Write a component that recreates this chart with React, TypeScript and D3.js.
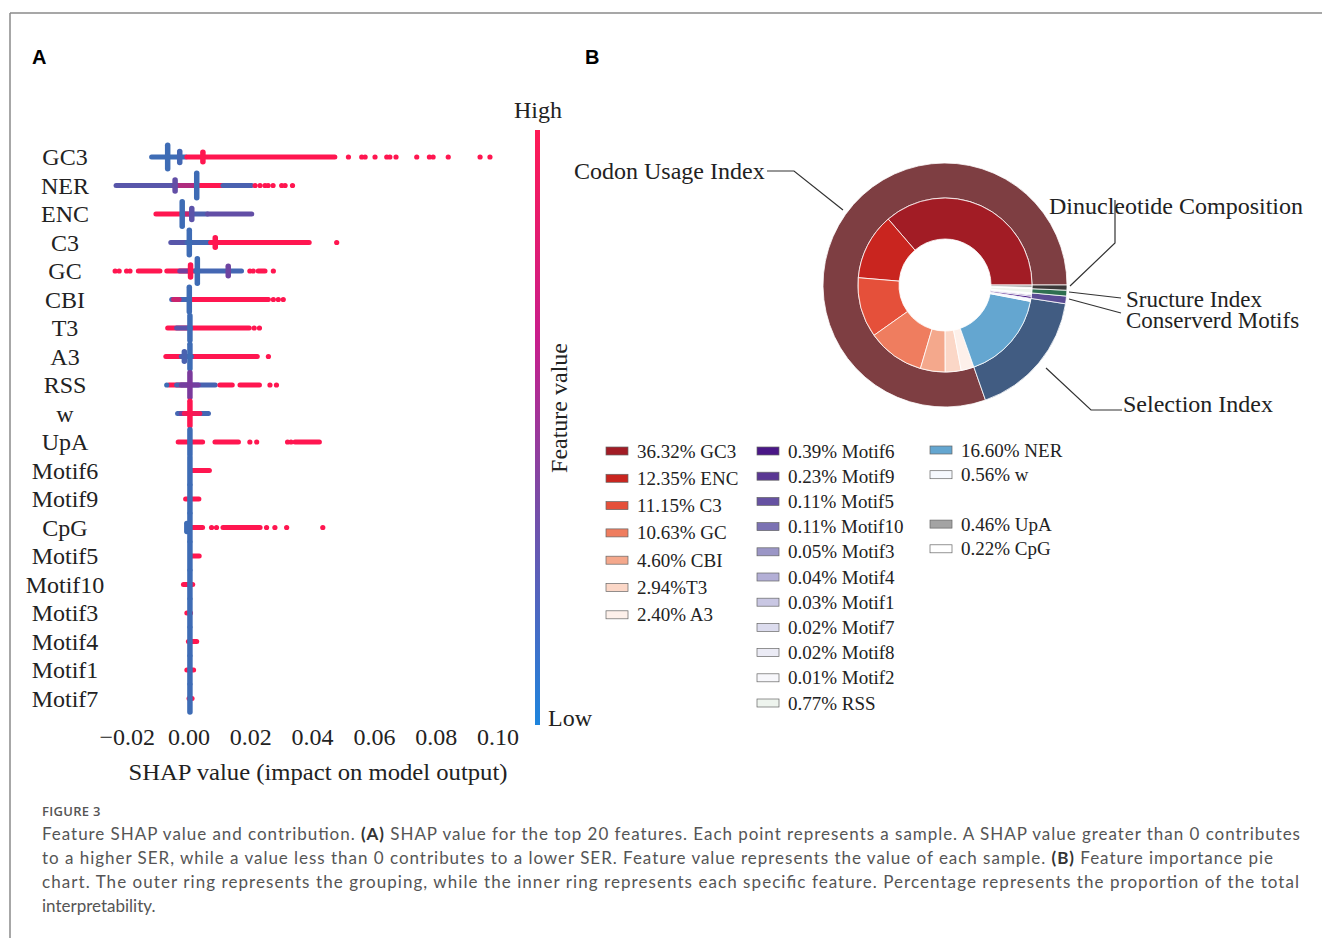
import React from 'react';
import * as d3 from 'd3';

// ---------------- Panel A data ----------------
const features = ['GC3','NER','ENC','C3','GC','CBI','T3','A3','RSS','w','UpA','Motif6','Motif9','CpG','Motif5','Motif10','Motif3','Motif4','Motif1','Motif7'];
const xTicks = [-0.02, 0, 0.02, 0.04, 0.06, 0.08, 0.1];

// dense runs of samples: [feature, shapFrom, shapTo, featureValueLevel 0=low 1=high]
const shapRuns: [string, number, number, number][] = [
  ['GC3', -0.0121, -0.0010, 0.0],
  ['GC3', -0.0007, 0.0472, 1.0],
  ['NER', -0.0236, -0.0045, 0.22],
  ['NER', -0.0045, 0.0025, 0.7],
  ['NER', 0.0025, 0.0110, 1.0],
  ['NER', 0.0110, 0.0203, 0.1],
  ['ENC', -0.0107, -0.0029, 1.0],
  ['ENC', -0.0022, 0.0060, 0.12],
  ['ENC', 0.0060, 0.0203, 0.3],
  ['ENC', -0.0020, 0.0008, 0.8],
  ['C3', -0.0059, -0.0007, 0.22],
  ['C3', -0.0007, 0.0079, 0.05],
  ['C3', 0.0070, 0.0389, 1.0],
  ['GC', -0.0164, -0.0094, 1.0],
  ['GC', -0.0072, 0.0020, 1.0],
  ['GC', -0.0030, 0.0000, 0.45],
  ['GC', 0.0020, 0.0170, 0.05],
  ['GC', 0.0224, 0.0246, 1.0],
  ['CBI', -0.0056, 0.0000, 0.05],
  ['CBI', -0.0050, -0.0032, 0.8],
  ['CBI', 0.0005, 0.0257, 1.0],
  ['T3', -0.0069, 0.0195, 1.0],
  ['T3', -0.0040, 0.0005, 0.25],
  ['A3', -0.0075, 0.0221, 1.0],
  ['A3', -0.0025, 0.0008, 0.1],
  ['RSS', -0.0065, -0.0005, 1.0],
  ['RSS', -0.0040, 0.0085, 0.08],
  ['RSS', -0.0025, 0.0030, 0.45],
  ['RSS', 0.0100, 0.0140, 1.0],
  ['RSS', 0.0165, 0.0228, 1.0],
  ['w', -0.0037, 0.0063, 0.05],
  ['w', -0.0025, -0.0005, 0.4],
  ['w', -0.0015, 0.0035, 0.95],
  ['UpA', -0.0035, 0.0044, 1.0],
  ['UpA', 0.0084, 0.0160, 1.0],
  ['UpA', 0.0343, 0.0422, 1.0],
  ['Motif6', 0.0005, 0.0066, 1.0],
  ['Motif9', -0.0011, 0.0032, 1.0],
  ['CpG', 0.0003, 0.0044, 1.0],
  ['CpG', 0.0110, 0.0230, 1.0],
  ['Motif5', 0.0005, 0.0033, 1.0],
  ['Motif10', -0.0018, 0.0012, 1.0],
  ['Motif3', -0.0007, 0.0005, 1.0],
  ['Motif4', -0.0002, 0.0025, 1.0],
  ['Motif1', -0.0007, 0.0015, 1.0],
  ['Motif7', 0.0000, 0.0010, 1.0],
];

// stacked piles of samples: [feature, shap, density 0..1, level]
const shapPiles: [string, number, number, number][] = [
  ['GC3', -0.0069, 0.87, 0.0],
  ['GC3', -0.0030, 0.4, 0.05],
  ['GC3', 0.0045, 0.35, 1.0],
  ['NER', -0.0045, 0.4, 0.3],
  ['NER', 0.0025, 0.9, 0.0],
  ['ENC', 0.0009, 0.4, 0.25],
  ['ENC', -0.0022, 0.9, 0.0],
  ['C3', 0.0085, 0.35, 1.0],
  ['C3', 0.0001, 0.9, 0.0],
  ['GC', 0.0005, 0.45, 1.0],
  ['GC', 0.0127, 0.35, 0.4],
  ['GC', 0.0027, 0.9, 0.0],
  ['CBI', 0.0001, 0.9, 0.0],
  ['T3', 0.0003, 0.9, 0.0],
  ['A3', -0.0015, 0.35, 0.1],
  ['A3', 0.0003, 0.9, 0.0],
  ['RSS', 0.0003, 0.9, 0.5],
  ['w', 0.0003, 0.9, 1.0],
  ['UpA', 0.0003, 0.9, 0.0],
  ['Motif6', 0.0003, 1, 0.0],
  ['Motif9', 0.0003, 1, 0.0],
  ['CpG', -0.0007, 0.3, 0.0],
  ['CpG', 0.0003, 1, 0.0],
  ['Motif5', 0.0003, 1, 0.0],
  ['Motif10', 0.0003, 1, 0.0],
  ['Motif3', 0.0003, 1, 0.0],
  ['Motif4', 0.0003, 1, 0.0],
  ['Motif1', 0.0003, 1, 0.0],
  ['Motif7', 0.0003, 1, 0.0],
];

// isolated samples: [feature, shap, level]
const shapDots: [string, number, number][] = [
  ['GC3', 0.0516, 1], ['GC3', 0.0559, 1], ['GC3', 0.0570, 1], ['GC3', 0.0602, 1],
  ['GC3', 0.0640, 1], ['GC3', 0.0650, 1], ['GC3', 0.0670, 1], ['GC3', 0.0737, 1],
  ['GC3', 0.0778, 1], ['GC3', 0.0790, 1], ['GC3', 0.0839, 1], ['GC3', 0.0942, 1], ['GC3', 0.0974, 1],
  ['NER', 0.0214, 1], ['NER', 0.0230, 1], ['NER', 0.0246, 1], ['NER', 0.0256, 1],
  ['NER', 0.0272, 1], ['NER', 0.0300, 1], ['NER', 0.0311, 1], ['NER', 0.0335, 1],
  ['C3', 0.0478, 1],
  ['GC', -0.0239, 1], ['GC', -0.0226, 1], ['GC', -0.0202, 1], ['GC', -0.0191, 1],
  ['GC', 0.0197, 1], ['GC', 0.0208, 1], ['GC', 0.0273, 1],
  ['CBI', 0.0273, 1], ['CBI', 0.0289, 1], ['CBI', 0.0305, 1],
  ['T3', 0.0211, 1], ['T3', 0.0228, 1],
  ['A3', 0.0257, 1],
  ['RSS', -0.0072, 0], ['RSS', 0.0262, 1], ['RSS', 0.0283, 1],
  ['UpA', 0.0197, 1], ['UpA', 0.0219, 1], ['UpA', 0.0319, 1], ['UpA', 0.0330, 1],
  ['CpG', 0.0073, 1], ['CpG', 0.0089, 1], ['CpG', 0.0251, 1], ['CpG', 0.0278, 1],
  ['CpG', 0.0316, 1], ['CpG', 0.0433, 1],
];

// ---------------- Panel B data ----------------
const innerNames = ['GC3','ENC','C3','GC','CBI','T3','A3','NER','w','Motif6','Motif9','Motif5','Motif10','Motif3','Motif4','Motif1','Motif7','Motif8','Motif2','RSS','CpG','UpA'];
const innerValues = [36.32,12.35,11.15,10.63,4.60,2.94,2.40,16.60,0.56,0.39,0.23,0.11,0.11,0.05,0.04,0.03,0.02,0.02,0.01,0.77,0.22,0.46];
const innerColors = ['#a21c25','#c9251f','#e5503a','#ef7d5f','#f4a88c','#fbd7c7','#fdf0ea','#64a6d0','#f6f9fe','#4a1787','#5a3793','#6652a2','#7b72b3','#9b96c6','#b3afd6','#c9c7e3','#dcdcee','#ebebf5','#f7f7fb','#eef4ee','#ffffff','#a3a3a3'];
const innerGroup = [0,0,0,0,0,0,0,1,1,2,2,2,2,2,2,2,2,2,2,3,4,4];
const groupNames = ['Codon Usage Index','Selection Index','Conserverd Motifs','Sructure Index','Dinucleotide Composition'];
const groupColors = ['#7e3e42','#415c82','#5a4c94','#2f6f51','#3c3a3a'];

const legendCol1 = ['GC3','ENC','C3','GC','CBI','T3','A3'];
const legendCol2 = ['Motif6','Motif9','Motif5','Motif10','Motif3','Motif4','Motif1','Motif7','Motif8','Motif2','RSS'];
const legendCol3 = ['NER','w','','UpA','CpG'];

const captionLines = [
  ['Feature SHAP value and contribution. ', '(A)', ' SHAP value for the top 20 features. Each point represents a sample. A SHAP value greater than 0 contributes'],
  ['to a higher SER, while a value less than 0 contributes to a lower SER. Feature value represents the value of each sample. ', '(B)', ' Feature importance pie'],
  ['chart. The outer ring represents the grouping, while the inner ring represents each specific feature. Percentage represents the proportion of the total', '', ''],
  ['interpretability.', '', ''],
];
const captionWidths = [1258, 1231, 1257, 0];

const SERIF = '"Liberation Serif", "Times New Roman", serif';

export default function App() {
  const x = d3.scaleLinear().domain([0, 0.1]).range([189, 498]);
  const y = d3.scalePoint<string>().domain(features).range([157, 698.5]);
  const rowHalf = 13.6;
  const col = d3.scaleLinear<string>().domain([0, 0.5, 1]).range(['#3e6cb5', '#7a3a9c', '#ff1650']).interpolate(d3.interpolateRgb);
  const fmt = d3.format('.2f');

  // donut
  const cx = 945, cy = 285;
  const pie = d3.pie<number>().sort(null).startAngle(Math.PI / 2).endAngle(Math.PI / 2 - 2 * Math.PI);
  const innerArcs = pie(innerValues);
  const groupValues = groupNames.map((_, g) => d3.sum(innerValues.filter((_, i) => innerGroup[i] === g)));
  const outerArcs = pie(groupValues);
  const innerArc = d3.arc<d3.PieArcDatum<number>>().innerRadius(46).outerRadius(87);
  const outerArc = d3.arc<d3.PieArcDatum<number>>().innerRadius(87).outerRadius(122);
  const colorOf = (n: string) => innerColors[innerNames.indexOf(n)];
  const labelOf = (n: string) => {
    const v = innerValues[innerNames.indexOf(n)];
    return `${fmt(v)}%${n === 'T3' ? '' : ' '}${n}`;
  };

  const legendCols = [
    { items: legendCol1, x: 606, y0: 451, step: 27.3 },
    { items: legendCol2, x: 757, y0: 451, step: 25.2 },
    { items: legendCol3, x: 930, y0: 450, step: 24.7 },
  ];

  return (
    <svg width={1322} height={938} style={{ position: 'absolute', left: 0, top: 0, background: '#fff' }}>
      <defs>
        <linearGradient id="cbar" x1="0" y1="0" x2="0" y2="1">
          <stop offset="0" stopColor="#ff1a55" />
          <stop offset="0.35" stopColor="#c81e8c" />
          <stop offset="0.62" stopColor="#7b4ba6" />
          <stop offset="1" stopColor="#1e85dd" />
        </linearGradient>
      </defs>
      {/* frame */}
      <line x1={10} y1={13} x2={1322} y2={13} stroke="#8a8a8a" strokeWidth={1.5} />
      <line x1={10} y1={13} x2={10} y2={938} stroke="#8a8a8a" strokeWidth={1.5} />

      <text x={32} y={64} fontFamily='"Liberation Sans", Arial, sans-serif' fontWeight={700} fontSize={20}>A</text>
      <text x={585} y={64} fontFamily='"Liberation Sans", Arial, sans-serif' fontWeight={700} fontSize={20}>B</text>

      {/* Panel A */}
      <g fontFamily={SERIF} fill="#222">
        {features.map(f => (
          <text key={f} x={65} y={(y(f) as number) + 8} textAnchor="middle" fontSize={24}>{f}</text>
        ))}
        {xTicks.map(t => (
          <text key={t} x={x(t)} y={745} textAnchor="middle" fontSize={24}>{fmt(t)}</text>
        ))}
        <text x={318} y={780} textAnchor="middle" fontSize={24} textLength={379} lengthAdjust="spacingAndGlyphs">SHAP value (impact on model output)</text>
      </g>
      <g>
        {shapRuns.map(([f, a, b, l], i) => (
          <line key={'r' + i} x1={x(a)} x2={x(b)} y1={y(f)} y2={y(f)} stroke={col(l)} strokeWidth={5} strokeLinecap="round" />
        ))}
        {shapPiles.map(([f, v, d, l], i) => (
          <line key={'p' + i} x1={x(v)} x2={x(v)} y1={(y(f) as number) - d * rowHalf} y2={(y(f) as number) + d * rowHalf} stroke={col(l)} strokeWidth={5.5} strokeLinecap="round" />
        ))}
        {shapDots.map(([f, v, l], i) => (
          <circle key={'d' + i} cx={x(v)} cy={y(f)} r={2.6} fill={col(l)} />
        ))}
      </g>
      {/* colorbar */}
      <rect x={535} y={130} width={5} height={595} fill="url(#cbar)" />
      <g fontFamily={SERIF} fontSize={24} fill="#222">
        <text x={538} y={118} textAnchor="middle">High</text>
        <text x={548} y={726}>Low</text>
        <text transform="translate(567,408) rotate(-90)" textAnchor="middle">Feature value</text>
      </g>

      {/* Panel B donut */}
      <g transform={`translate(${cx},${cy})`}>
        {outerArcs.map((a, i) => (
          <path key={'o' + i} d={outerArc(a) as string} fill={groupColors[i]} stroke="#fff" strokeWidth={0.8} />
        ))}
        {innerArcs.map((a, i) => (
          <path key={'i' + i} d={innerArc(a) as string} fill={innerColors[i]} stroke="#fff" strokeWidth={0.8} />
        ))}
      </g>
      <g fill="none" stroke="#333" strokeWidth={1.2}>
        <polyline points="767,171 794,171 843,210" />
        <polyline points="1070,286 1115,243 1115,200" />
        <polyline points="1069,292 1121,298" />
        <polyline points="1069,299 1121,313" />
        <polyline points="1046,368 1091,410 1122,410" />
      </g>
      <g fontFamily={SERIF} fontSize={24} fill="#222">
        <text x={574} y={179}>{groupNames[0]}</text>
        <text x={1049} y={214}>{groupNames[4]}</text>
        <text x={1126} y={307} fontSize={23}>{groupNames[3]}</text>
        <text x={1126} y={328} fontSize={23}>{groupNames[2]}</text>
        <text x={1123} y={412}>{groupNames[1]}</text>
      </g>

      {/* legend */}
      <g fontFamily={SERIF} fontSize={19} fill="#222">
        {legendCols.map((c, ci) => c.items.map((n, i) => n ? (
          <g key={ci + '-' + n}>
            <rect x={c.x} y={c.y0 + i * c.step - 4} width={22} height={8} fill={colorOf(n)} stroke="#666" strokeWidth={0.7} />
            <text x={c.x + 31} y={c.y0 + i * c.step + 6.5}>{labelOf(n)}</text>
          </g>
        ) : null))}
      </g>

      {/* caption */}
      <text x={42} y={816} fontFamily='"Open Sans", "Noto Sans", sans-serif' fontSize={13} fontWeight={600} fill="#555" letterSpacing={0.3}>FIGURE 3</text>
      {captionLines.map((ln, i) => (
        <text key={'c' + i} x={42} y={840 + i * 24} fontFamily='Lato, "Open Sans", sans-serif' fontSize={17} fill="#555"
          {...(captionWidths[i] ? { textLength: captionWidths[i], lengthAdjust: 'spacing' } : {})}>
          {ln[0]}
          {ln[1] ? <tspan fontWeight={700} fill="#333">{ln[1]}</tspan> : null}
          {ln[2]}
        </text>
      ))}
    </svg>
  );
}
